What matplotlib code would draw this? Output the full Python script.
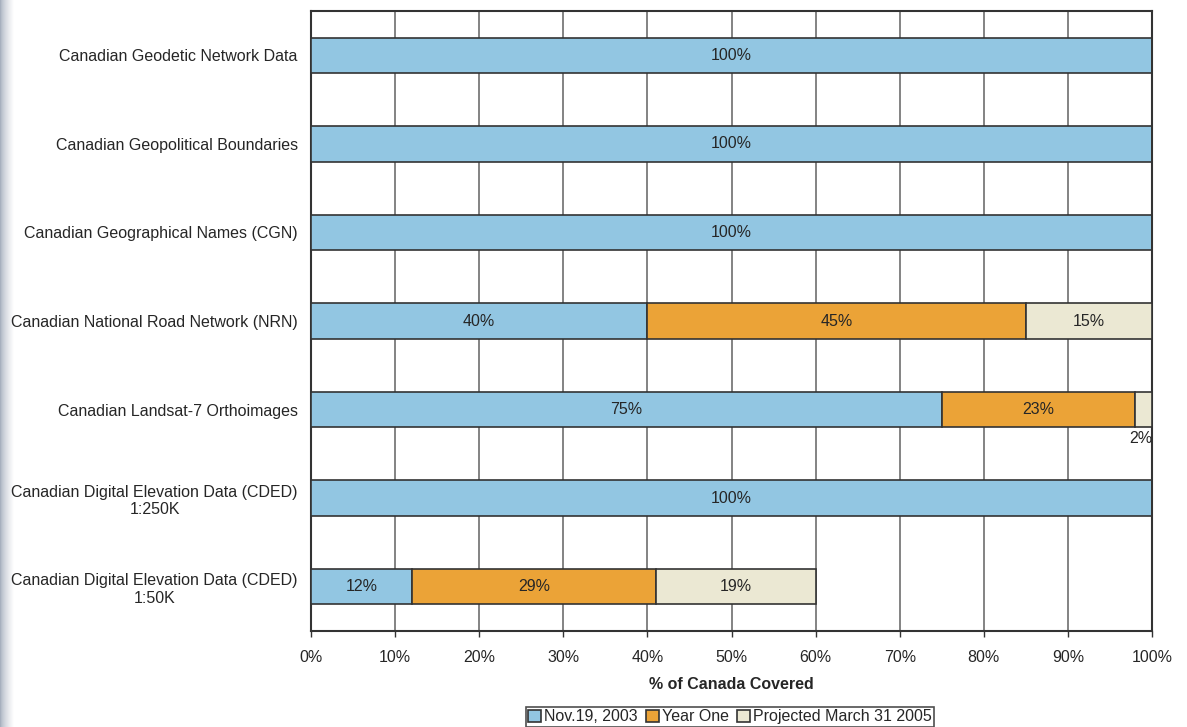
import numpy as np
import matplotlib
matplotlib.use('Agg')
import matplotlib.pyplot as plt

plt.rcParams['font.family'] = ['Liberation Sans', 'DejaVu Sans']

datasets = ['Canadian Geodetic Network Data',
            'Canadian Geopolitical Boundaries',
            'Canadian Geographical Names (CGN)',
            'Canadian National Road Network (NRN)',
            'Canadian Landsat-7 Orthoimages',
            'Canadian Digital Elevation Data (CDED)\n1:250K',
            'Canadian Digital Elevation Data (CDED)\n1:50K']
nov_2003 = [100, 100, 100, 40, 75, 100, 12]
year_one = [0, 0, 0, 45, 23, 0, 29]
projected = [0, 0, 0, 15, 2, 0, 19]
series_names = ['Nov.19, 2003', 'Year One', 'Projected March 31 2005']
xticks = [0, 10, 20, 30, 40, 50, 60, 70, 80, 90, 100]

COLORS = ['#92c6e2', '#eba337', '#ebe8d3']
TXT = '#262626'
FS = 11.5

fig = plt.figure(figsize=(11.87, 7.27), dpi=100)

# faint shadow on the left edge of the page scan
sh = fig.add_axes([0, 0, 14 / 1187, 1])
t = np.linspace(0, 1, 40) ** 0.6
edge = np.array([0.62, 0.66, 0.72])
grad = edge[None, :] * (1 - t[:, None]) + t[:, None]
sh.imshow(grad[None, :, :], aspect='auto', extent=[0, 1, 0, 1])
sh.axis('off')

ax = fig.add_axes([311 / 1187, 1 - 631 / 727, 841 / 1187, 620 / 727])

y = np.arange(len(datasets))
left = np.zeros(len(datasets))
for vals, col, name in zip([nov_2003, year_one, projected], COLORS, series_names):
    vals = np.array(vals, dtype=float)
    ax.barh(y, vals, left=left, height=0.4, color=col, edgecolor='#333333',
            linewidth=1.2, label=name, zorder=3)
    for yi, l, v in zip(y, left, vals):
        if v <= 0:
            continue
        if v < 5:
            ax.text(l + v, yi + 0.33, '%d%%' % v, ha='right', va='center',
                    fontsize=FS, color=TXT, zorder=4)
        else:
            ax.text(l + v / 2, yi, '%d%%' % v, ha='center', va='center',
                    fontsize=FS, color=TXT, zorder=4)
    left += vals

ax.set_xlim(0, 100)
ax.set_ylim(len(datasets) - 0.5, -0.5)
ax.set_yticks(y)
ax.set_yticklabels(datasets, fontsize=FS, color=TXT, ha='right', multialignment='center')
ax.tick_params(axis='y', length=0, pad=9.5)
ax.set_xticks(xticks)
ax.set_xticklabels(['%d%%' % t for t in xticks], fontsize=FS, color=TXT)
ax.tick_params(axis='x', length=4, width=1, color='#333333', pad=10)
ax.grid(axis='x', color='#7a7a7a', linewidth=1.3, zorder=0)
ax.set_axisbelow(True)
for s in ax.spines.values():
    s.set_color('#333333')
    s.set_linewidth(1.5)

ax.set_xlabel('% of Canada Covered', fontsize=FS, fontweight='bold', color=TXT, labelpad=8)

leg = fig.legend(loc='upper center', bbox_to_anchor=(730 / 1187, 1 - 707 / 727), ncol=3,
                 frameon=True, fancybox=False, fontsize=FS, handlelength=0.8,
                 handleheight=0.8, handletextpad=0.2, columnspacing=0.5,
                 borderpad=0.15, borderaxespad=0)
leg.get_frame().set_edgecolor('#222222')
leg.get_frame().set_linewidth(1.2)
for t in leg.get_texts():
    t.set_color(TXT)

fig.savefig('out.png', dpi=100)
